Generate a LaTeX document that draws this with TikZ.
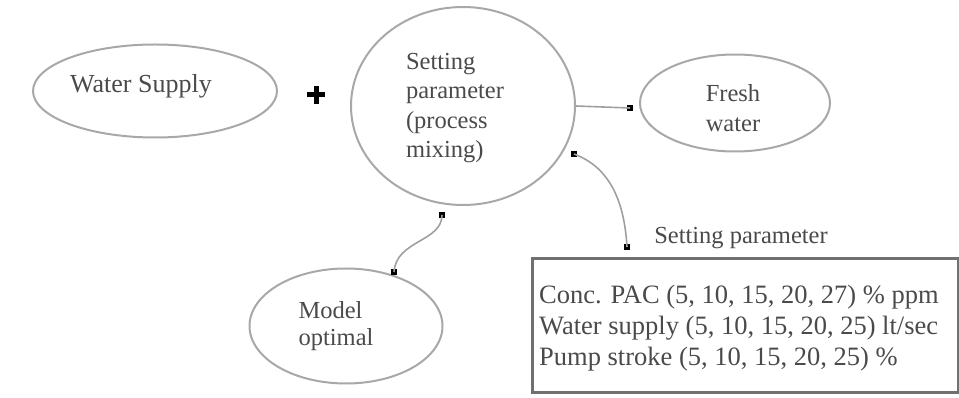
\documentclass[tikz,border=0pt]{standalone}
\usepackage{fontspec}
\setmainfont{Liberation Serif}
\usetikzlibrary{shapes.geometric}
\definecolor{outl}{HTML}{A8A8A8}
\definecolor{txt}{HTML}{4A4A4A}
\definecolor{boxc}{HTML}{707070}
\definecolor{conn}{HTML}{A0A0A0}
\tikzset{
  oval/.style={draw=outl, line width=2pt, ellipse, inner sep=0pt},
  lbl/.style={text=txt, font=\fontsize{24.5}{29.5}\selectfont, inner sep=0pt},
  sq/.style={fill=black, minimum size=6.5pt, inner sep=0pt, rectangle},
  wire/.style={draw=conn, line width=1.6pt}
}
\begin{document}
\begin{tikzpicture}[x=1pt,y=-1pt]
\useasboundingbox (0,0) rectangle (959,398);
% ellipses
\node[oval, minimum width=244pt, minimum height=93pt] (ws) at (155,91) {};
\node[lbl, font=\fontsize{26}{30}\selectfont] (wst) at (141,86) {Water Supply};
\node[oval, minimum width=224pt, minimum height=198pt] (circ) at (463,106) {};
\node[lbl, align=left] (circt) at (455,108) {Setting\\parameter\\(process\\mixing)};
\node[oval, minimum width=190pt, minimum height=97pt] (fw) at (735,103) {};
\node[lbl, align=center] (fwt) at (733,108) {Fresh\\water};
\node[oval, minimum width=193pt, minimum height=115pt] (mo) at (346,326) {};
\node[lbl, align=left, font=\fontsize{24.5}{27}\selectfont] (mot) at (336,326) {Model\\optimal};
% plus sign
\coordinate (plus) at (316,95);
\draw[line width=5pt] ([xshift=-9pt]plus) -- ([xshift=9pt]plus);
\draw[line width=5pt] ([yshift=-9pt]plus) -- ([yshift=9pt]plus);
% parameter box
\node[draw=boxc, line width=3pt, minimum width=426pt, minimum height=134pt, inner sep=0pt] (box) at (745,325.5) {};
\node[lbl, align=left, anchor=west, font=\fontsize{26.5}{31}\selectfont] (boxt) at (539,328) {Conc. PAC (5, 10, 15, 20, 27) \% ppm\\Water supply (5, 10, 15, 20, 25) lt/sec\\Pump stroke (5, 10, 15, 20, 25) \%};
\node[lbl] (boxl) at (741,238) {Setting parameter};
% connector squares
\node[sq] (s1) at (630,108) {};
\node[sq] (s2) at (574,154) {};
\node[sq] (s3) at (627,247) {};
\node[sq] (s4) at (442,215) {};
\node[sq] (s5) at (394,272) {};
% connectors
\draw[wire] (circ.east) -- (s1.center);
\draw[wire] (s2.center) .. controls (606,166) and (624,195) .. (s3.center);
\draw[wire] (s4.center) .. controls (442,242) and (396,240) .. (s5.center);
\end{tikzpicture}
\end{document}
